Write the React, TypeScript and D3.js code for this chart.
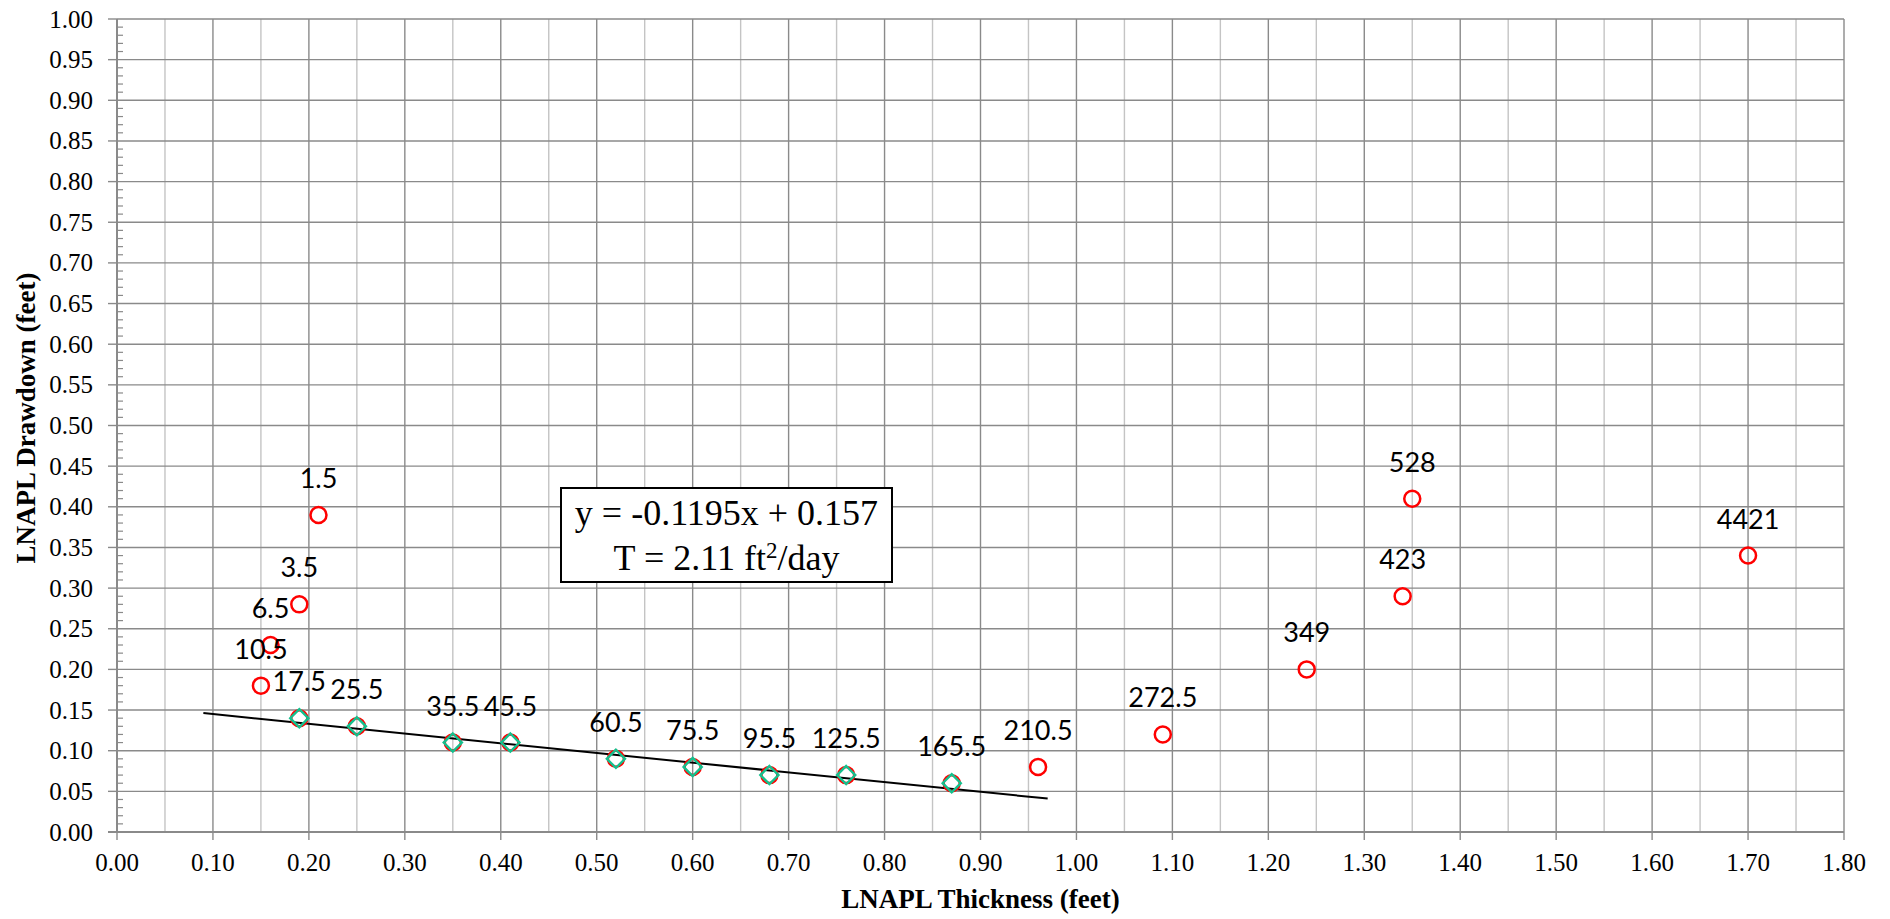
import React, { useEffect, useRef } from 'react';
import * as d3 from 'd3';

// elapsed time labels for each reading
const pointLabels = ['1.5', '3.5', '6.5', '10.5', '17.5', '25.5', '35.5', '45.5', '60.5', '75.5', '95.5', '125.5', '165.5', '210.5', '272.5', '349', '423', '528', '4421'];
const thickness = [0.21, 0.19, 0.16, 0.15, 0.19, 0.25, 0.35, 0.41, 0.52, 0.60, 0.68, 0.76, 0.87, 0.96, 1.09, 1.24, 1.34, 1.35, 1.70];
const drawdown = [0.39, 0.28, 0.23, 0.18, 0.14, 0.13, 0.11, 0.11, 0.09, 0.08, 0.07, 0.07, 0.06, 0.08, 0.12, 0.20, 0.29, 0.41, 0.34];

// points used for the regression (green diamonds)
const fitThickness = [0.19, 0.25, 0.35, 0.41, 0.52, 0.60, 0.68, 0.76, 0.87];
const fitDrawdown = [0.14, 0.13, 0.11, 0.11, 0.09, 0.08, 0.07, 0.07, 0.06];

// linear trendline
const trendSlope = -0.1195;
const trendIntercept = 0.157;
const trendRange = [0.09, 0.97];

const xTicks = d3.range(0, 19).map(i => i / 10);
const yTicks = d3.range(0, 21).map(i => i / 20);

const App = () => {
  const svgRef = useRef<SVGSVGElement>(null);

  useEffect(() => {
    document.body.style.margin = '0';
    const width = 1890;
    const height = 919;
    const margin = { top: 19, right: 46, bottom: 87, left: 117 };

    const svg = d3.select(svgRef.current);
    svg.selectAll('*').remove();

    const x = d3.scaleLinear().domain([0, 1.8]).range([margin.left, width - margin.right]);
    const y = d3.scaleLinear().domain([0, 1]).range([height - margin.bottom, margin.top]);

    const dark = '#8a8a8a';
    const light = '#c4c4c4';
    const serif = '"Liberation Serif", "Times New Roman", serif';

    // vertical grid (0.05 steps, light minor / dark major)
    d3.range(1, 37).forEach(i => {
      const v = i / 20;
      svg.append('line')
        .attr('x1', x(v)).attr('x2', x(v))
        .attr('y1', y(0)).attr('y2', y(1))
        .attr('stroke', i % 2 === 0 ? dark : light)
        .attr('stroke-width', 1.4);
    });

    // horizontal grid
    yTicks.forEach(v => {
      if (v === 0) return;
      svg.append('line')
        .attr('x1', x(0)).attr('x2', x(1.8))
        .attr('y1', y(v)).attr('y2', y(v))
        .attr('stroke', dark)
        .attr('stroke-width', 1.4);
    });

    // axes lines
    svg.append('line')
      .attr('x1', x(0)).attr('x2', x(0))
      .attr('y1', y(0)).attr('y2', y(1))
      .attr('stroke', dark).attr('stroke-width', 2);
    svg.append('line')
      .attr('x1', x(0) - 9).attr('x2', x(1.8))
      .attr('y1', y(0)).attr('y2', y(0))
      .attr('stroke', dark).attr('stroke-width', 2);

    // y minor ticks
    d3.range(1, 100).forEach(i => {
      if (i % 5 === 0) return;
      svg.append('line')
        .attr('x1', x(0)).attr('x2', x(0) + 6)
        .attr('y1', y(i / 100)).attr('y2', y(i / 100))
        .attr('stroke', dark).attr('stroke-width', 1.2);
    });

    // y major ticks + labels
    yTicks.forEach(v => {
      svg.append('line')
        .attr('x1', x(0) - 9).attr('x2', x(0))
        .attr('y1', y(v)).attr('y2', y(v))
        .attr('stroke', dark).attr('stroke-width', 1.4);
      svg.append('text')
        .attr('x', x(0) - 24)
        .attr('y', y(v))
        .attr('dy', '0.34em')
        .attr('text-anchor', 'end')
        .style('font-family', serif)
        .style('font-size', '25px')
        .style('fill', '#000')
        .text(d3.format('.2f')(v));
    });

    // x ticks + labels
    xTicks.forEach(v => {
      svg.append('line')
        .attr('x1', x(v)).attr('x2', x(v))
        .attr('y1', y(0)).attr('y2', y(0) + 8)
        .attr('stroke', dark).attr('stroke-width', 1.4);
      svg.append('text')
        .attr('x', x(v))
        .attr('y', y(0) + 39)
        .attr('text-anchor', 'middle')
        .style('font-family', serif)
        .style('font-size', '25px')
        .style('fill', '#000')
        .text(d3.format('.2f')(v));
    });

    // trendline
    svg.append('line')
      .attr('x1', x(trendRange[0])).attr('y1', y(trendSlope * trendRange[0] + trendIntercept))
      .attr('x2', x(trendRange[1])).attr('y2', y(trendSlope * trendRange[1] + trendIntercept))
      .attr('stroke', '#000').attr('stroke-width', 2);

    // all readings (red circles)
    thickness.forEach((t, i) => {
      svg.append('circle')
        .attr('cx', x(t)).attr('cy', y(drawdown[i]))
        .attr('r', 8)
        .attr('fill', 'none')
        .attr('stroke', '#ff0000')
        .attr('stroke-width', 2.5);
    });

    // fitted readings (green diamonds)
    const diamond = d3.symbol().type(d3.symbolDiamond2).size(210);
    fitThickness.forEach((t, i) => {
      svg.append('path')
        .attr('d', diamond)
        .attr('transform', `translate(${x(t)},${y(fitDrawdown[i])})`)
        .attr('fill', 'none')
        .attr('stroke', '#14c08e')
        .attr('stroke-width', 2.4);
    });

    // point labels
    thickness.forEach((t, i) => {
      svg.append('text')
        .attr('x', x(t))
        .attr('y', y(drawdown[i]) - 27)
        .attr('text-anchor', 'middle')
        .style('font-family', 'Lato, "Open Sans", sans-serif')
        .style('font-size', '27px')
        .style('fill', '#000')
        .text(pointLabels[i]);
    });

    // equation box
    const bx = 561;
    const by = 488;
    const bw = 331;
    const bh = 94;
    svg.append('rect')
      .attr('x', bx).attr('y', by)
      .attr('width', bw).attr('height', bh)
      .attr('fill', '#fff')
      .attr('stroke', '#000')
      .attr('stroke-width', 2);
    svg.append('text')
      .attr('x', bx + bw / 2)
      .attr('y', by + 37)
      .attr('text-anchor', 'middle')
      .style('font-family', serif)
      .style('font-size', '36px')
      .text('y = -0.1195x + 0.157');
    const t2 = svg.append('text')
      .attr('x', bx + bw / 2)
      .attr('y', by + 82)
      .attr('text-anchor', 'middle')
      .style('font-family', serif)
      .style('font-size', '36px');
    t2.append('tspan').text('T = 2.11 ft');
    t2.append('tspan').attr('dy', -12).style('font-size', '23px').text('2');
    t2.append('tspan').attr('dy', 12).text('/day');

    // axis titles
    svg.append('text')
      .attr('x', (x(0) + x(1.8)) / 2)
      .attr('y', 908)
      .attr('text-anchor', 'middle')
      .style('font-family', serif)
      .style('font-size', '27px')
      .style('font-weight', 'bold')
      .text('LNAPL Thickness (feet)');
    svg.append('text')
      .attr('transform', `translate(35, 418) rotate(-90)`)
      .attr('text-anchor', 'middle')
      .style('font-family', serif)
      .style('font-size', '27px')
      .style('font-weight', 'bold')
      .text('LNAPL Drawdown (feet)');
  }, []);

  return (
    <svg ref={svgRef} width={1890} height={919} style={{ display: 'block', background: '#fff' }}></svg>
  );
};

export default App;
